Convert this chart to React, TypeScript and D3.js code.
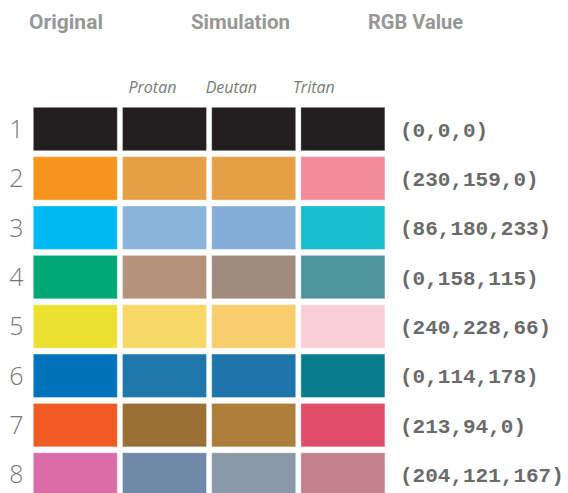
import React, { useEffect, useRef } from 'react';
import * as d3 from 'd3';

// one row per test colour: original, then protan / deutan / tritan simulation
const rowIds = ['1', '2', '3', '4', '5', '6', '7', '8'];
const originalColors = ['#231f20', '#f7941d', '#00b9f2', '#00a875', '#ece133', '#0072bc', '#f05a24', '#dc6ca8'];
const protanColors = ['#231f20', '#e5a045', '#8ab4d9', '#b4937a', '#f7d866', '#1f77ab', '#9b7037', '#7088a8'];
const deutanColors = ['#231f20', '#e5a045', '#84aed6', '#a08b7d', '#f9cc6c', '#1f75ab', '#ad7d3a', '#8b98a8'];
const tritanColors = ['#231f20', '#f48b9a', '#18bdcd', '#4e959e', '#f9ced8', '#087e8d', '#e04e6c', '#c4818b'];
const rgbLabels = ['(0,0,0)', '(230,159,0)', '(86,180,233)', '(0,158,115)', '(240,228,66)', '(0,114,178)', '(213,94,0)', '(204,121,167)'];
const columnNames = ['Original', 'Protan', 'Deutan', 'Tritan'];
const simNames = ['Protan', 'Deutan', 'Tritan'];
const headers = ['Original', 'Simulation', 'RGB Value'];

const W = 568;
const H = 493;

const App = () => {
  const svgRef = useRef<SVGSVGElement>(null);

  useEffect(() => {
    const svg = d3.select(svgRef.current);
    svg.selectAll('*').remove();

    const x = d3.scaleBand().domain(columnNames).range([33.3, 384.9]).paddingInner(0.058).paddingOuter(0);
    const y = d3.scaleBand().domain(rowIds).range([107.3, 496.2]).paddingInner(0.12).paddingOuter(0);

    const cols = [originalColors, protanColors, deutanColors, tritanColors];

    // top headers (x start and measured width in the original layout)
    const headerPos = [[29, 74], [191, 99], [368, 95]];
    svg.append('g')
      .attr('font-family', 'Roboto, sans-serif')
      .attr('font-weight', 700)
      .attr('font-size', 20)
      .attr('fill', '#979797')
      .selectAll('text')
      .data(headers)
      .join('text')
      .attr('x', (d, i) => headerPos[i][0])
      .attr('y', 28.5)
      .attr('textLength', (d, i) => headerPos[i][1])
      .attr('lengthAdjust', 'spacingAndGlyphs')
      .text(d => d);

    // simulation sub-headers
    const subOffsets = [6, -6, -8];
    svg.append('g')
      .attr('font-family', '"Open Sans", sans-serif')
      .attr('font-style', 'italic')
      .attr('font-size', 16)
      .attr('fill', '#7a7a7a')
      .selectAll('text')
      .data(simNames)
      .join('text')
      .attr('x', (d, i) => (x(d) as number) + subOffsets[i])
      .attr('y', 93.3)
      .text(d => d);

    // swatches
    const rows = svg.append('g')
      .selectAll('g')
      .data(rowIds)
      .join('g')
      .attr('transform', d => `translate(0,${y(d)})`);

    rows.selectAll('rect')
      .data((d, ri) => columnNames.map((c, ci) => ({ c, color: cols[ci][ri] })))
      .join('rect')
      .attr('x', d => x(d.c) as number)
      .attr('y', 0)
      .attr('width', x.bandwidth())
      .attr('height', y.bandwidth())
      .attr('fill', d => d.color)
      .attr('stroke', '#ffffff')
      .attr('stroke-opacity', 0.35)
      .attr('stroke-width', 1);

    // row numbers
    rows.append('text')
      .attr('x', 16.5)
      .attr('y', y.bandwidth() / 2 + 9)
      .attr('text-anchor', 'middle')
      .attr('font-family', '"Open Sans", sans-serif')
      .attr('font-weight', 300)
      .attr('font-size', 25)
      .attr('fill', '#777')
      .text(d => d);

    // rgb values
    rows.append('text')
      .attr('x', 400)
      .attr('y', y.bandwidth() / 2 + 7.5)
      .attr('font-family', '"Liberation Mono", monospace')
      .attr('font-weight', 700)
      .attr('font-size', 21)
      .attr('fill', '#6a6a6a')
      .text((d, i) => rgbLabels[i]);
  }, []);

  return (
    <svg
      ref={svgRef}
      width={W}
      height={H}
      style={{ position: 'absolute', left: 0, top: 0, background: '#fff' }}
    />
  );
};

export default App;
